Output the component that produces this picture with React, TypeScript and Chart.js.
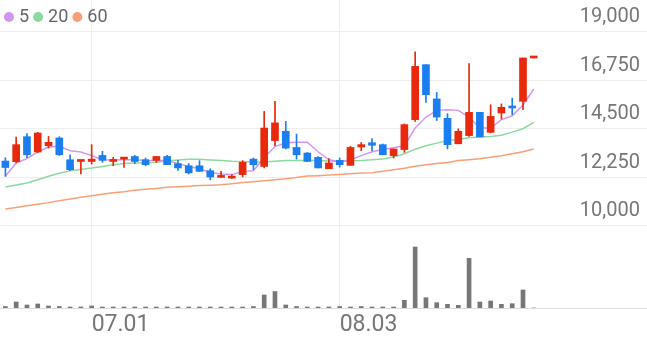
import { useEffect, useRef } from 'react';
import { Chart, registerables } from 'chart.js';

Chart.register(...registerables);

// ---- data ----
const categories = [
  '06.21', '06.22', '06.23', '06.24', '06.25', '06.28', '06.29', '06.30',
  '07.01', '07.02', '07.05', '07.06', '07.07', '07.08', '07.09', '07.12', '07.13', '07.14', '07.15', '07.16',
  '07.19', '07.20', '07.21', '07.22', '07.23', '07.26', '07.27', '07.28', '07.29', '07.30',
  '08.02', '08.03', '08.04', '08.05', '08.06', '08.09', '08.10', '08.11', '08.12', '08.13',
  '08.17', '08.18', '08.19', '08.20', '08.23', '08.24', '08.25', '08.26', '08.27', '08.30',
];
const slotCount = 60;

const opens = [
  13000, 12970, 14130, 13420, 13710, 14070, 13060, 12980, 12980, 13260,
  12980, 13090, 13210, 13060, 13030, 13210, 12880, 12780, 12780, 12550,
  12240, 12210, 12370, 13090, 12750, 13950, 14380, 13630, 13370, 13170,
  12640, 13030, 12800, 13650, 13850, 13760, 13250, 13530, 14920, 17470,
  15880, 14980, 13800, 14180, 15260, 14330, 15230, 15540, 15770, 17780,
];
const closes = [
  12700, 13760, 13290, 14300, 13870, 13290, 12600, 13030, 13090, 13030,
  13060, 13170, 12980, 12830, 13210, 12830, 12680, 12450, 12520, 12260,
  12290, 12260, 12940, 12830, 14530, 14770, 13600, 13290, 12980, 12680,
  12910, 12830, 13630, 13760, 13730, 13290, 13560, 14690, 17390, 16080,
  15040, 13760, 14380, 15260, 14120, 15070, 15490, 15460, 17780, 17780,
];
const highs = [
  13150, 14110, 14270, 14330, 14140, 14130, 13290, 13030, 13760, 13450,
  13170, 13170, 13260, 13140, 13210, 13260, 13030, 12880, 13020, 12640,
  12520, 12370, 13020, 13140, 15300, 15770, 14840, 14250, 13400, 13210,
  13110, 13140, 13680, 13860, 14040, 13790, 13560, 14720, 18060, 17470,
  16180, 15200, 14490, 17520, 15260, 15610, 15650, 15920, 17780, 17780,
];
const lows = [
  12290, 12920, 13150, 13390, 13600, 13260, 12550, 12400, 12860, 12940,
  12780, 12700, 12880, 12780, 12940, 12830, 12570, 12400, 12520, 12130,
  12240, 12180, 12260, 12600, 12680, 13710, 13560, 13090, 12980, 12680,
  12640, 12720, 12800, 13480, 13480, 13290, 13140, 13400, 14840, 15720,
  14880, 13560, 13800, 14140, 14120, 14300, 14950, 15150, 15380, 17780,
];
const volumes = [
  150000, 600000, 300000, 400000, 200000, 150000, 100000, 100000, 200000, 100000,
  100000, 100000, 100000, 100000, 100000, 100000, 100000, 100000, 100000, 100000,
  100000, 100000, 100000, 150000, 1300000, 1650000, 300000, 150000, 100000, 100000,
  100000, 150000, 100000, 150000, 100000, 100000, 100000, 770000, 6100000, 1030000,
  530000, 370000, 270000, 4970000, 600000, 700000, 370000, 430000, 1800000, 0,
];
const ma5 = [
  12290, 12910, 13110, 13420, 13650, 13680, 13480, 13420, 13250, 13060,
  13050, 13060, 13060, 13020, 13030, 13020, 12880, 12750, 12640, 12470,
  12400, 12370, 12520, 12550, 13150, 13670, 13850, 13870, 13870, 13430,
  13060, 12970, 13060, 13250, 13430, 13530, 13620, 13710, 14530, 15040,
  15350, 15380, 15350, 15040, 14530, 14530, 14920, 15100, 15600, 16340,
];
const ma20 = [
  11800, 11890, 11980, 12130, 12290, 12430, 12550, 12610, 12680, 12750,
  12830, 12880, 12910, 12920, 12940, 13000, 13050, 13080, 13080, 13050,
  13030, 12990, 12980, 12950, 12950, 12990, 13020, 13030, 13030, 13020,
  13000, 12980, 13000, 13020, 13060, 13090, 13190, 13340, 13550, 13710,
  13830, 13940, 14010, 14080, 14110, 14140, 14200, 14340, 14500, 14790,
];
const ma60 = [
  10780, 10840, 10930, 11000, 11070, 11160, 11240, 11320, 11390, 11460,
  11530, 11580, 11650, 11690, 11730, 11780, 11810, 11830, 11860, 11880,
  11900, 11950, 12000, 12040, 12090, 12130, 12180, 12240, 12300, 12320,
  12350, 12380, 12410, 12440, 12460, 12530, 12600, 12670, 12760, 12830,
  12880, 12930, 13020, 13060, 13110, 13180, 13250, 13340, 13430, 13560,
];
const maLabels = ['5', '20', '60'];
const xTickLabels = ['07.01', '08.03'];
const yTicks = [10000, 12250, 14500, 16750, 19000];

// ---- styles ----
const UP = '#e8290b';
const DOWN = '#1a7ef0';
const C5 = '#d296f0';
const C20 = '#8cdaa0';
const C60 = '#f7a078';
const VOL = '#777777';
const GRID = '#eeeeee';

// Lay the chart-area legend out as one row.
const rowLegend = {
  id: 'rowLegend',
  beforeUpdate(chart: any) {
    if (chart.legend) chart.legend.isHorizontal = () => true;
  },
};

export default function App() {
  const ref = useRef<HTMLCanvasElement | null>(null);

  useEffect(() => {
    if (!ref.current) return;
    Chart.defaults.font.family = 'Roboto';
    const labels = Array.from({ length: slotCount }, (_, i) => categories[i] ?? '');
    const candleColors = opens.map((o, i) => (closes[i] >= o ? UP : DOWN));

    const chart = new Chart(ref.current, {
      type: 'bar',
      data: {
        labels,
        datasets: [
          { type: 'line', label: maLabels[0], data: ma5, borderColor: C5, backgroundColor: C5, borderWidth: 1.5, pointRadius: 0, tension: 0, yAxisID: 'y', order: 2 },
          { type: 'line', label: maLabels[1], data: ma20, borderColor: C20, backgroundColor: C20, borderWidth: 1.5, pointRadius: 0, tension: 0, yAxisID: 'y', order: 3 },
          { type: 'line', label: maLabels[2], data: ma60, borderColor: C60, backgroundColor: C60, borderWidth: 1.5, pointRadius: 0, tension: 0, yAxisID: 'y', order: 4 },
          { type: 'bar', label: 'wick', data: lows.map((l, i) => [l, highs[i]]), backgroundColor: candleColors, barThickness: 1, grouped: false, yAxisID: 'y', order: 1 },
          { type: 'bar', label: 'body', data: opens.map((o, i) => [o, closes[i]]), backgroundColor: candleColors, barThickness: 7, minBarLength: 2, grouped: false, yAxisID: 'y', order: 0 },
          { type: 'bar', label: 'volume', data: volumes, backgroundColor: VOL, barThickness: 4, grouped: false, yAxisID: 'yv', order: 5 },
        ] as any,
      },
      plugins: [rowLegend],
      options: {
        responsive: false,
        animation: false,
        events: [],
        layout: { padding: 0 },
        plugins: {
          tooltip: { enabled: false },
          legend: {
            position: 'chartArea' as any,
            align: 'start',
            labels: {
              usePointStyle: true,
              pointStyle: 'circle',
              boxWidth: 2,
              boxHeight: 6,
              padding: 8,
              color: '#666666',
              font: { family: 'Roboto', size: 18 },
              filter: (item: any) => maLabels.includes(item.text),
            },
          },
        },
        scales: {
          x: {
            offset: true,
            grid: { offset: false, color: GRID, drawTicks: false },
            border: { display: true, color: '#dddddd' },
            afterBuildTicks: (scale: any) => {
              scale.ticks = xTickLabels.map((l) => ({ value: categories.indexOf(l) }));
            },
            afterFit: (scale: any) => {
              scale.height = 29;
              scale.paddingLeft = 0;
              scale.paddingRight = 0;
            },
            ticks: {
              autoSkip: false,
              maxRotation: 0,
              align: 'start',
              padding: 5,
              color: '#777777',
              font: { family: 'Roboto', size: 23, lineHeight: 1.1 },
            },
          },
          y: {
            position: 'right',
            min: 6182,
            max: 20470,
            afterBuildTicks: (scale: any) => {
              scale.ticks = yTicks.map((v) => ({ value: v }));
            },
            afterFit: (scale: any) => {
              scale.width = 0;
              scale.paddingTop = 0;
              scale.paddingBottom = 0;
            },
            grid: { color: GRID, drawTicks: false },
            border: { display: false },
            ticks: {
              mirror: true,
              padding: -7,
              labelOffset: -14.5,
              color: '#777777',
              font: { family: 'Roboto', size: 20 },
              callback: (v: any) => Number(v).toLocaleString('en-US'),
            },
          },
          yv: {
            display: false,
            min: 0,
            max: 30800000,
          },
        },
      } as any,
    });
    return () => chart.destroy();
  }, []);

  return (
    <div style={{ position: 'fixed', left: 0, top: 0, width: 647, height: 337, background: '#ffffff' }}>
      <canvas ref={ref} width={647} height={337} style={{ display: 'block' }} />
    </div>
  );
}
